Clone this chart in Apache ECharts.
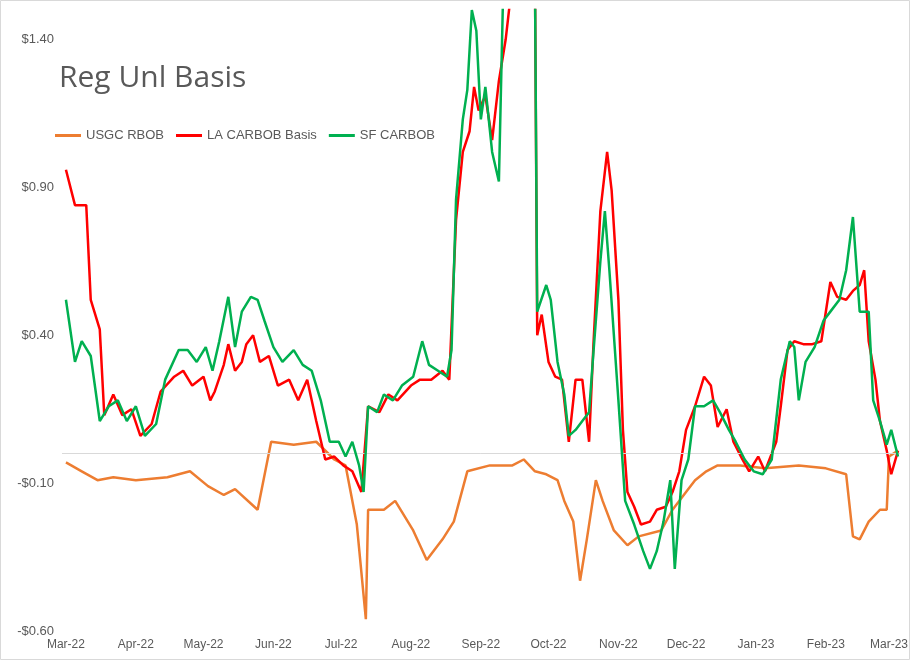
<!DOCTYPE html>
<html><head><meta charset="utf-8">
<script src="https://cdn.jsdelivr.net/npm/echarts@6/dist/echarts.min.js"></script>
<style>html,body{margin:0;padding:0;background:#fff}#c{width:911px;height:661px}</style>
</head><body><div id="c"></div>
<script>
const yTicks=[-0.6,-0.1,0.4,0.9,1.4];
const usgc=[['2022-03-01',-0.03],['2022-03-08',-0.06],['2022-03-15',-0.09],['2022-03-22',-0.08],['2022-04-01',-0.09],['2022-04-15',-0.08],['2022-04-25',-0.06],['2022-05-03',-0.11],['2022-05-10',-0.14],['2022-05-15',-0.12],['2022-05-25',-0.19],['2022-05-31',0.04],['2022-06-10',0.03],['2022-06-20',0.04],['2022-06-28',-0.02],['2022-07-03',-0.04],['2022-07-05',-0.12],['2022-07-08',-0.24],['2022-07-12',-0.56],['2022-07-13',-0.19],['2022-07-20',-0.19],['2022-07-25',-0.16],['2022-08-02',-0.26],['2022-08-08',-0.36],['2022-08-15',-0.29],['2022-08-20',-0.23],['2022-08-26',-0.06],['2022-09-05',-0.04],['2022-09-15',-0.04],['2022-09-20',-0.02],['2022-09-25',-0.06],['2022-09-30',-0.07],['2022-10-05',-0.09],['2022-10-08',-0.16],['2022-10-12',-0.23],['2022-10-15',-0.43],['2022-10-18',-0.29],['2022-10-22',-0.09],['2022-10-25',-0.16],['2022-10-30',-0.26],['2022-11-05',-0.31],['2022-11-10',-0.28],['2022-11-20',-0.26],['2022-11-25',-0.19],['2022-12-01',-0.13],['2022-12-05',-0.09],['2022-12-10',-0.06],['2022-12-15',-0.04],['2022-12-25',-0.04],['2023-01-05',-0.05],['2023-01-20',-0.04],['2023-02-01',-0.05],['2023-02-10',-0.07],['2023-02-13',-0.28],['2023-02-16',-0.29],['2023-02-20',-0.23],['2023-02-25',-0.19],['2023-02-28',-0.19],['2023-03-01',-0.01],['2023-03-05',0.01]];
const la=[['2022-03-01',0.96],['2022-03-05',0.84],['2022-03-10',0.84],['2022-03-12',0.52],['2022-03-16',0.42],['2022-03-18',0.13],['2022-03-22',0.20],['2022-03-26',0.13],['2022-03-30',0.15],['2022-04-03',0.06],['2022-04-08',0.10],['2022-04-12',0.21],['2022-04-18',0.26],['2022-04-22',0.28],['2022-04-26',0.23],['2022-05-01',0.26],['2022-05-04',0.18],['2022-05-06',0.21],['2022-05-10',0.30],['2022-05-12',0.37],['2022-05-15',0.28],['2022-05-18',0.31],['2022-05-20',0.37],['2022-05-23',0.40],['2022-05-26',0.31],['2022-05-30',0.33],['2022-06-03',0.23],['2022-06-08',0.25],['2022-06-12',0.18],['2022-06-16',0.25],['2022-06-20',0.11],['2022-06-24',-0.02],['2022-06-28',-0.01],['2022-07-02',-0.04],['2022-07-06',-0.06],['2022-07-10',-0.13],['2022-07-13',0.16],['2022-07-18',0.14],['2022-07-22',0.20],['2022-07-26',0.18],['2022-08-01',0.23],['2022-08-05',0.25],['2022-08-10',0.25],['2022-08-15',0.28],['2022-08-18',0.25],['2022-08-21',0.79],['2022-08-24',1.02],['2022-08-27',1.09],['2022-08-29',1.24],['2022-08-31',1.16],['2022-09-03',1.21],['2022-09-06',1.06],['2022-09-09',1.26],['2022-09-12',1.40],['2022-09-15',1.60],['2022-09-20',1.80],['2022-09-25',1.60],['2022-09-26',0.40],['2022-09-28',0.47],['2022-10-01',0.31],['2022-10-04',0.26],['2022-10-07',0.25],['2022-10-10',0.04],['2022-10-13',0.25],['2022-10-16',0.25],['2022-10-19',0.04],['2022-10-21',0.38],['2022-10-24',0.82],['2022-10-27',1.02],['2022-10-29',0.89],['2022-11-01',0.52],['2022-11-03',0.08],['2022-11-05',-0.13],['2022-11-08',-0.18],['2022-11-11',-0.24],['2022-11-15',-0.23],['2022-11-18',-0.19],['2022-11-22',-0.18],['2022-11-25',-0.13],['2022-11-28',-0.06],['2022-12-01',0.08],['2022-12-05',0.16],['2022-12-09',0.26],['2022-12-12',0.23],['2022-12-15',0.09],['2022-12-19',0.15],['2022-12-22',0.04],['2022-12-26',-0.02],['2022-12-29',-0.06],['2023-01-02',-0.01],['2023-01-05',-0.06],['2023-01-10',0.04],['2023-01-12',0.16],['2023-01-15',0.35],['2023-01-18',0.38],['2023-01-22',0.37],['2023-01-26',0.37],['2023-01-30',0.38],['2023-02-03',0.58],['2023-02-06',0.53],['2023-02-10',0.52],['2023-02-13',0.55],['2023-02-16',0.57],['2023-02-18',0.62],['2023-02-20',0.38],['2023-02-23',0.25],['2023-02-25',0.11],['2023-02-28',0.01],['2023-03-02',-0.07],['2023-03-05',0.01]];
const sf=[['2022-03-01',0.52],['2022-03-05',0.31],['2022-03-08',0.38],['2022-03-12',0.33],['2022-03-16',0.11],['2022-03-20',0.16],['2022-03-24',0.18],['2022-03-28',0.11],['2022-04-01',0.16],['2022-04-05',0.06],['2022-04-10',0.10],['2022-04-14',0.25],['2022-04-20',0.35],['2022-04-24',0.35],['2022-04-28',0.31],['2022-05-02',0.36],['2022-05-05',0.28],['2022-05-08',0.38],['2022-05-12',0.53],['2022-05-15',0.36],['2022-05-18',0.48],['2022-05-22',0.53],['2022-05-25',0.52],['2022-05-28',0.45],['2022-06-01',0.36],['2022-06-05',0.31],['2022-06-10',0.35],['2022-06-14',0.30],['2022-06-18',0.28],['2022-06-22',0.18],['2022-06-26',0.04],['2022-06-30',0.04],['2022-07-03',-0.01],['2022-07-06',0.04],['2022-07-09',-0.04],['2022-07-11',-0.13],['2022-07-13',0.16],['2022-07-17',0.14],['2022-07-20',0.20],['2022-07-24',0.18],['2022-07-28',0.23],['2022-08-02',0.26],['2022-08-06',0.38],['2022-08-09',0.30],['2022-08-13',0.28],['2022-08-17',0.26],['2022-08-19',0.35],['2022-08-21',0.86],['2022-08-24',1.13],['2022-08-26',1.23],['2022-08-28',1.50],['2022-08-30',1.43],['2022-09-01',1.13],['2022-09-03',1.24],['2022-09-06',1.02],['2022-09-09',0.92],['2022-09-11',1.60],['2022-09-18',1.80],['2022-09-25',1.60],['2022-09-26',0.48],['2022-09-30',0.57],['2022-10-02',0.52],['2022-10-05',0.31],['2022-10-08',0.20],['2022-10-10',0.06],['2022-10-13',0.08],['2022-10-16',0.11],['2022-10-19',0.14],['2022-10-21',0.35],['2022-10-24',0.65],['2022-10-26',0.82],['2022-10-28',0.62],['2022-11-01',0.18],['2022-11-04',-0.16],['2022-11-08',-0.24],['2022-11-12',-0.33],['2022-11-15',-0.39],['2022-11-18',-0.33],['2022-11-21',-0.23],['2022-11-24',-0.09],['2022-11-26',-0.39],['2022-11-29',-0.09],['2022-12-02',-0.02],['2022-12-05',0.16],['2022-12-09',0.16],['2022-12-13',0.18],['2022-12-16',0.14],['2022-12-20',0.08],['2022-12-23',0.04],['2022-12-27',-0.02],['2022-12-31',-0.06],['2023-01-04',-0.07],['2023-01-08',-0.02],['2023-01-12',0.25],['2023-01-16',0.38],['2023-01-18',0.36],['2023-01-20',0.18],['2023-01-23',0.31],['2023-01-27',0.36],['2023-01-31',0.45],['2023-02-03',0.48],['2023-02-07',0.52],['2023-02-10',0.62],['2023-02-13',0.80],['2023-02-16',0.48],['2023-02-20',0.48],['2023-02-22',0.18],['2023-02-25',0.11],['2023-02-28',0.03],['2023-03-02',0.08],['2023-03-05',-0.01]];
const M=['Jan','Feb','Mar','Apr','May','Jun','Jul','Aug','Sep','Oct','Nov','Dec'];
const txt='#595959';
const mk=(name,data,color,z)=>({name,type:'line',data,showSymbol:false,symbol:'none',z,lineStyle:{color,width:2.5},itemStyle:{color}});
const chart=echarts.init(document.getElementById('c'));
chart.setOption({
  animation:false,
  title:{text:'Reg Unl Basis',left:54,top:58,textStyle:{fontSize:30,fontWeight:'normal',color:txt,fontFamily:'Open Sans'}},
  legend:{left:50,top:124,itemWidth:26,itemGap:12,icon:'rect',itemHeight:3,textStyle:{color:txt,fontSize:13,fontFamily:'Liberation Sans'},data:['USGC RBOB','LA CARBOB Basis','SF CARBOB']},
  graphic:[{type:'rect',shape:{x:0.5,y:0.5,width:909,height:659},style:{fill:'none',stroke:'#d9d9d9',lineWidth:1},silent:true}],
  grid:{left:62,right:3,top:10,bottom:30},
  xAxis:{type:'time',min:'2022-02-27 06:00',max:'2023-03-05 18:00',minInterval:27*86400000,maxInterval:32*86400000,
    axisLine:{show:false},axisTick:{show:false},splitLine:{show:false},
    axisLabel:{color:txt,fontSize:12,fontFamily:'Liberation Sans',showMinLabel:false,showMaxLabel:false,hideOverlap:false,
      formatter:v=>{const d=new Date(v);return M[d.getMonth()]+'-'+String(d.getFullYear()).slice(2);}}},
  yAxis:{type:'value',min:-0.6,max:1.5,interval:0.5,splitLine:{show:false},axisLine:{show:false},axisTick:{show:false},
    axisLabel:{color:txt,fontSize:13,fontFamily:'Liberation Sans',showMaxLabel:false,
      formatter:v=>(v<0?'-$':'$')+Math.abs(v).toFixed(2)}},
  series:[
    Object.assign(mk('USGC RBOB',usgc,'#ED7D31',3),{markLine:{silent:true,symbol:'none',label:{show:false},lineStyle:{color:'#d9d9d9',type:'solid',width:1},data:[{yAxis:0}]}}),
    mk('LA CARBOB Basis',la,'#FF0000',4),
    mk('SF CARBOB',sf,'#00B050',5)
  ]
});
</script></body></html>
